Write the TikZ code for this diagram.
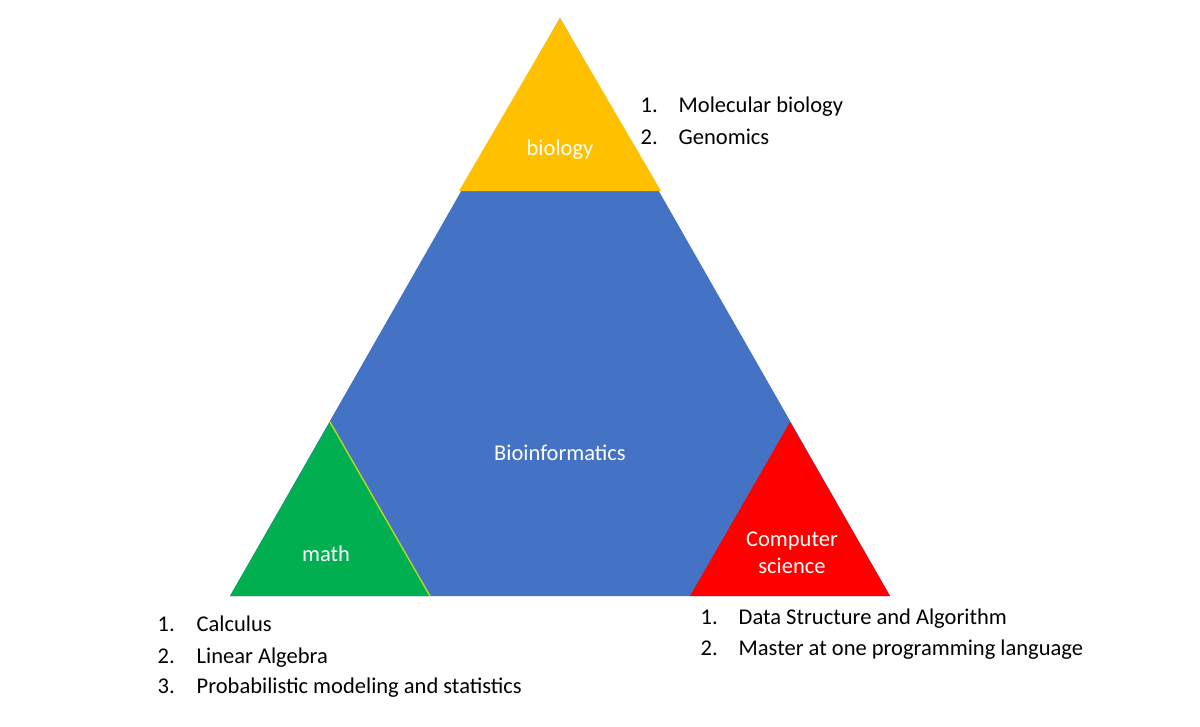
\documentclass[tikz,border=0pt]{standalone}
\usepackage{fontspec}
\setmainfont{Carlito}
\begin{document}
\begin{tikzpicture}[x=0.01cm,y=-0.01cm,
  txt/.style={font=\fontsize{6.4pt}{7.7pt}\selectfont,inner sep=0pt,anchor=base west},
  wtxt/.style={font=\fontsize{6.4pt}{7.7pt}\selectfont,text=white,inner sep=0pt,align=center}]
\useasboundingbox (0,0) rectangle (1200,726);
\fill[white] (0,0) rectangle (1200,726);
\definecolor{bblue}{RGB}{68,114,196}
\definecolor{byel}{RGB}{255,192,0}
\definecolor{bgreen}{RGB}{0,176,80}
\fill[bblue] (560,18) -- (890,596) -- (230,596) -- cycle;
\fill[byel] (560,18) -- (661,191) -- (459,191) -- cycle;
\fill[bgreen] (330,422) -- (430,596) -- (230,596) -- cycle;
\draw[yellow!70!green, line width=0.4pt] (330,422) -- (430,596);
\fill[red] (790,422) -- (890,596) -- (690,596) -- cycle;
\node[wtxt] (bio) at (560,150) {biology};
\node[wtxt] (bi) at (560,453) {Bioinformatics};
\node[wtxt] (m) at (326,554) {math};
\node[wtxt] (cs) at (792,553) {Computer\\science};
\foreach \n/\t/\y in {1/Molecular biology/112,2/Genomics/144}{
  \node[txt] (b\n) at (640,\y) {\n.}; \node[txt] (bt\n) at (678,\y) {\t};}
\foreach \n/\t/\y in {1/Calculus/631,2/Linear Algebra/663,3/Probabilistic modeling and statistics/693}{
  \node[txt] (m\n) at (157,\y) {\n.}; \node[txt] (mt\n) at (196,\y) {\t};}
\foreach \n/\t/\y in {1/Data Structure and Algorithm/624,2/Master at one programming language/655}{
  \node[txt] (c\n) at (700,\y) {\n.}; \node[txt] (ct\n) at (738,\y) {\t};}
\end{tikzpicture}
\end{document}
